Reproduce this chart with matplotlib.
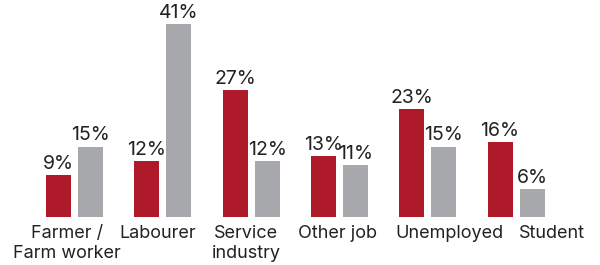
import matplotlib.pyplot as plt
import numpy as np

categories = ["Farmer /\nFarm worker", "Labourer", "Service\nindustry",
              "Other job", "Unemployed", "Student"]
red_vals = [9, 12, 27, 13, 23, 16]
gray_vals = [15, 41, 12, 11, 15, 6]

# label nudges (px) to follow the original layout
label_dx = [-7.5, -5, -5, -2, 22, 36]

red = "#AE1A2A"
gray = "#A7A8AC"
txt = "#222222"

plt.rcParams['font.family'] = ['Inter', 'DejaVu Sans']

fig = plt.figure(figsize=(6, 2.65), dpi=100)
ax = fig.add_axes([0, 48 / 265, 1, 217 / 265])

unit = 88.3  # px per group
x = np.arange(len(categories))
w = 25 / unit
off = 16 / unit

ax.bar(x - off, red_vals, w, color=red)
ax.bar(x + off, gray_vals, w, color=gray)

for xi, v in zip(x - off, red_vals):
    ax.annotate(f"{v}%", (xi, v), xytext=(0, 1.5), textcoords="offset points",
                ha="center", va="bottom", fontsize=14, color=txt)
for xi, v in zip(x + off, gray_vals):
    ax.annotate(f"{v}%", (xi, v), xytext=(0, 1.5), textcoords="offset points",
                ha="center", va="bottom", fontsize=14, color=txt)

for xi, lab, dx in zip(x, categories, label_dx):
    ax.annotate(lab, (xi, 0), xytext=(dx * 0.72, -6), textcoords="offset points",
                ha="center", va="top", fontsize=13, color=txt, linespacing=1.2)

ax.set_xlim(-74.5 / unit, (600 - 74.5) / unit)
ax.set_ylim(0, 217 / 4.7)
ax.axis("off")

fig.savefig("out.png", dpi=100)
